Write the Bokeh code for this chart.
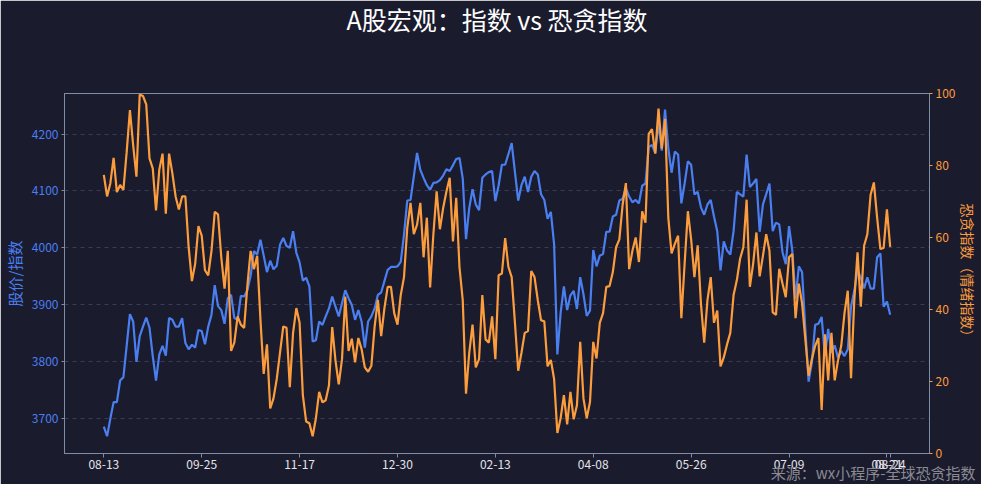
from bokeh.plotting import figure
from bokeh.models import Range1d, LinearAxis, FixedTicker, Title
from bokeh.embed import file_html
from bokeh.resources import INLINE

# ---------------- data ----------------
tick_positions = [0, 30, 60, 90, 120, 150, 180, 210, 240, 241]
tick_labels = ["08-13", "09-25", "11-17", "12-30", "02-13", "04-08", "05-26", "07-09", "08-21", "08-24"]

index_values = [
    3685, 3668, 3699, 3728, 3728, 3766, 3772, 3827, 3883, 3870,
    3799, 3844, 3861, 3877, 3859, 3809, 3766, 3812, 3827, 3810,
    3876, 3873, 3861, 3861, 3876, 3832, 3821, 3829, 3824, 3855,
    3853, 3830, 3861, 3882, 3934, 3897, 3890, 3866, 3911, 3917,
    3876, 3873, 3915, 3914, 3925, 3951, 3994, 3988, 4014, 3986,
    3957, 3977, 3962, 3968, 4005, 4017, 4003, 4000, 4029, 3991,
    3974, 3942, 3947, 3932, 3835, 3837, 3870, 3864, 3879, 3893,
    3914, 3896, 3879, 3902, 3925, 3911, 3899, 3873, 3890, 3870,
    3824, 3870, 3879, 3893, 3917, 3921, 3941, 3961, 3966, 3966,
    3967, 3975, 4023, 4083, 4084, 4125, 4167, 4137, 4123, 4110,
    4102, 4114, 4115, 4119, 4127, 4138, 4135, 4145, 4156, 4158,
    4122, 4015, 4070, 4103, 4076, 4066, 4123, 4129, 4133, 4135,
    4082, 4110, 4146, 4146, 4165, 4184, 4133, 4083, 4110, 4125,
    4098, 4125, 4135, 4129, 4094, 4084, 4051, 4063, 4006, 3812,
    3885, 3932, 3890, 3916, 3924, 3892, 3948, 3918, 3880, 3889,
    3996, 3967, 3986, 3989, 4028, 4028, 4055, 4058, 4083, 4086,
    4105, 4090, 4080, 4084, 4078, 4109, 4113, 4177, 4181, 4167,
    4221, 4171, 4243, 4175, 4132, 4169, 4164, 4078, 4113, 4152,
    4146, 4094, 4098, 4071, 4058, 4076, 4084, 4055, 4029, 3960,
    4011, 3995, 3988, 4029, 4098, 4094, 4090, 4164, 4107, 4113,
    4121, 4028, 4076, 4094, 4113, 4029, 4044, 4041, 3992, 3971,
    4038, 3995, 3910, 3967, 3957, 3856, 3764, 3798, 3864, 3866,
    3878, 3809, 3857, 3815, 3828, 3806, 3818, 3809, 3821, 3896,
    3924, 3961, 3947, 3928, 3948, 3928, 3928, 3983, 3990, 3896,
    3905, 3882,
]

fear_greed = [
    77.4, 71.4, 75.1, 82.1, 72.6, 74.6, 73.2, 83.7, 95.4, 85.6,
    76.9, 99.7, 99.3, 97.0, 82.0, 79.2, 67.5, 78.8, 83.3, 66.6,
    83.3, 77.9, 71.4, 67.8, 71.4, 71.4, 57.3, 47.9, 52.7, 63.2,
    60.5, 50.9, 49.5, 56.3, 67.1, 66.4, 54.5, 45.8, 56.3, 28.5,
    30.8, 38.1, 35.8, 34.9, 46.7, 56.3, 51.2, 54.9, 37.2, 22.1,
    30.3, 12.5, 15.3, 20.7, 28.0, 35.3, 34.9, 18.4, 33.5, 40.4,
    36.3, 16.2, 8.9, 8.4, 4.8, 9.8, 17.1, 14.2, 14.8, 18.9,
    35.1, 25.8, 19.2, 26.2, 43.6, 28.5, 31.9, 25.3, 32.1, 29.0,
    23.9, 22.7, 24.4, 35.3, 42.7, 32.6, 40.4, 46.3, 46.3, 39.0,
    35.8, 44.0, 49.0, 62.7, 69.6, 60.9, 63.6, 69.6, 54.5, 65.5,
    46.1, 60.9, 72.8, 62.3, 68.2, 72.8, 76.6, 58.9, 71.0, 51.8,
    42.6, 16.6, 28.0, 35.8, 23.9, 26.2, 44.0, 31.7, 30.8, 38.1,
    26.2, 49.5, 50.0, 59.8, 51.8, 49.0, 36.3, 23.0, 28.0, 33.5,
    34.0, 50.7, 49.0, 42.6, 37.0, 36.7, 24.2, 26.0, 20.7, 5.7,
    9.8, 16.2, 8.1, 17.1, 9.5, 13.4, 31.0, 15.3, 9.8, 14.3,
    31.0, 26.4, 36.3, 39.0, 46.3, 46.5, 50.4, 57.3, 59.5, 69.1,
    75.1, 51.2, 56.3, 60.0, 53.2, 67.3, 64.1, 88.8, 90.1, 83.3,
    95.8, 84.7, 92.9, 65.5, 55.6, 58.2, 60.5, 37.6, 52.7, 67.3,
    59.5, 49.0, 57.8, 41.7, 30.8, 42.6, 49.0, 36.3, 39.7, 24.2,
    26.7, 30.3, 33.5, 44.0, 48.1, 54.1, 57.3, 70.5, 46.3, 52.7,
    61.4, 49.2, 54.9, 60.9, 56.3, 39.2, 38.5, 51.3, 47.2, 43.4,
    54.5, 55.4, 37.6, 47.2, 41.7, 31.7, 21.6, 26.2, 29.9, 32.1,
    12.1, 33.1, 20.3, 33.5, 20.3, 25.8, 29.9, 39.0, 45.2, 20.9,
    42.6, 55.9, 40.8, 57.7, 60.9, 71.9, 75.3, 65.5, 56.8, 57.1,
    67.8, 57.4,
]

left_ticks = [3700, 3800, 3900, 4000, 4100, 4200]
right_ticks = [0, 20, 40, 60, 80, 100]

title_text = "A股宏观：指数 vs 恐贪指数"
left_label = "股价/指数"
right_label = "恐贪指数（情绪指数）"
source_text = "来源：wx小程序-全球恐贪指数"

# ---------------- style ----------------
BG = "#1b1b2e"
BLUE = "#4a7ff0"
ORANGE = "#fc9d3d"
FRAME = "#7f8ca8"
FONT = "Noto Sans CJK SC"

x = list(range(len(index_values)))
n = len(x) - 1
pad = n * 0.05

p = figure(width=981, height=484, output_backend="svg", toolbar_location=None,
           x_range=Range1d(-pad, n + pad), y_range=Range1d(3637.5, 4271.5),
           min_border_left=63, min_border_right=47, min_border_top=20, min_border_bottom=31)
p.background_fill_color = BG
p.border_fill_color = BG
p.outline_line_color = FRAME
p.outline_line_width = 1

p.extra_y_ranges = {"fg": Range1d(0, 100)}

# spacer between the frame and the title (keeps the title near the top edge)
spacer = Title(text=" ", text_color=BG, text_font=FONT, text_font_size="12px")
try:
    spacer.standoff = 36
except Exception:
    pass
p.add_layout(spacer, "above")

# title
p.title.text = title_text
p.title.align = "center"
p.title.vertical_align = "top"
p.title.text_color = "#ffffff"
p.title.text_font = FONT
p.title.text_font_size = "25px"
p.title.text_font_style = "normal"
try:
    p.title.standoff = 0
except Exception:
    pass

# grid
p.xgrid.visible = False
p.ygrid.grid_line_color = "#3a3d57"
p.ygrid.grid_line_dash = "4 4"
p.ygrid.grid_line_width = 1

# x axis
xa = p.xaxis[0]
xa.ticker = FixedTicker(ticks=tick_positions)
xa.major_label_overrides = {pos: lab for pos, lab in zip(tick_positions, tick_labels)}
xa.major_label_text_color = "#e4e4ea"
xa.major_label_text_font = FONT
xa.major_label_text_font_size = "12px"
xa.axis_line_color = FRAME
xa.major_tick_line_color = FRAME
xa.major_tick_in = 0
xa.major_tick_out = 4
xa.minor_tick_line_color = None
xa.major_label_standoff = 2

# left axis
ya = p.yaxis[0]
ya.ticker = FixedTicker(ticks=left_ticks)
ya.major_label_text_color = BLUE
ya.major_label_text_font = FONT
ya.major_label_text_font_size = "12px"
ya.axis_line_color = FRAME
ya.major_tick_line_color = FRAME
ya.major_tick_in = 0
ya.major_tick_out = 3
ya.minor_tick_line_color = None
ya.major_label_standoff = 3
ya.axis_label = left_label
ya.axis_label_text_color = BLUE
ya.axis_label_text_font = FONT
ya.axis_label_text_font_size = "15px"
ya.axis_label_text_font_style = "normal"
ya.axis_label_standoff = 4

# right axis
ra = LinearAxis(y_range_name="fg", ticker=FixedTicker(ticks=right_ticks))
ra.major_label_text_color = ORANGE
ra.major_label_text_font = FONT
ra.major_label_text_font_size = "12px"
ra.axis_line_color = FRAME
ra.major_tick_line_color = ORANGE
ra.major_tick_in = 0
ra.major_tick_out = 3
ra.minor_tick_line_color = None
ra.major_label_standoff = 3
ra.axis_label = right_label
ra.axis_label_text_color = ORANGE
ra.axis_label_text_font = FONT
ra.axis_label_text_font_size = "14px"
ra.axis_label_text_font_style = "normal"
ra.axis_label_standoff = 0
p.add_layout(ra, "right")

# source note below the axis
src = Title(text=source_text, align="right", vertical_align="top", text_color="#8a8a92",
            text_font=FONT, text_font_size="15px", text_font_style="normal", offset=-46)
try:
    src.standoff = -19
except Exception:
    try:
        src.standoff = 0
    except Exception:
        pass
p.add_layout(src, "below")

# lines
p.line(x, index_values, line_color=BLUE, line_width=2.2)
p.line(x, fear_greed, line_color=ORANGE, line_width=2.2, y_range_name="fg")

open("out.html", "w").write(file_html(p, INLINE))
